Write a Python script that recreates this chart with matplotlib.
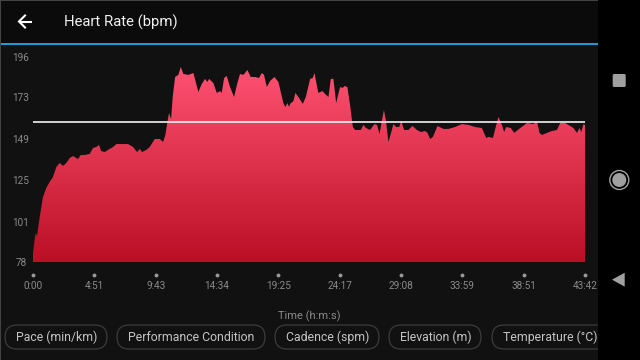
import matplotlib
matplotlib.use('Agg')
import matplotlib.pyplot as plt
from matplotlib.patches import Rectangle, FancyBboxPatch, Circle, Polygon, PathPatch
from matplotlib.path import Path
from matplotlib.colors import LinearSegmentedColormap
from matplotlib.transforms import ScaledTranslation
import numpy as np

plt.rcParams['font.family'] = ['Roboto', 'DejaVu Sans']

# time in minutes, heart rate in bpm
minutes = [0, 0, .13, .21, .32, .53, .79, 1.05, 1.32, 1.58, 1.85, 2.11, 2.38, 2.64, 2.91, 3.17, 3.56, 3.78, 4.09, 4.49,
           4.75, 5.01, 5.23, 5.39, 5.68, 6.07, 6.34, 6.6, 7.52, 7.92, 8.24, 8.45, 8.63, 8.97, 9.24, 9.64, 10.03, 10.3,
           10.48, 10.64, 10.77, 10.93, 11.06, 11.25, 11.51, 11.7, 11.9, 12.3, 12.7, 13.09, 13.36, 13.62, 13.8, 13.94,
           14.28, 14.55, 14.81, 14.94, 15.13, 15.34, 15.6, 15.92, 16.18, 16.39, 16.66, 16.97, 17.24, 17.58, 17.9, 18.11,
           18.29, 18.51, 18.77, 19.11, 19.43, 19.82, 19.98, 20.14, 20.28, 20.35, 20.62, 20.77, 21.01, 21.36, 21.6, 21.94,
           22.15, 22.28, 22.59, 22.91, 23.13, 23.39, 23.58, 23.78, 24.0, 24.31, 24.53, 24.65, 24.89, 25.1, 25.32, 25.5,
           25.95, 26.16, 26.37, 26.69, 27.03, 27.24, 27.43, 27.78, 27.93, 28.14, 28.41, 28.53, 28.75, 28.99, 29.15, 29.38,
           29.72, 30.04, 30.39, 30.71, 31.05, 31.23, 31.44, 31.66, 32.02, 32.5, 32.89, 33.42, 33.95, 34.48, 35.01, 35.54,
           35.88, 36.06, 36.41, 36.61, 36.85, 37.12, 37.3, 37.46, 37.83, 38.1, 38.57, 39.1, 39.62, 39.89, 40.1, 40.29,
           40.68, 41.08, 41.48, 41.74, 42.13, 42.39, 42.79, 43.06, 43.27, 43.4, 43.58, 43.7]
bpm = [78, 83.2, 90.7, 94.7, 93, 103.9, 115.4, 120.6, 124.1, 126.9, 132.7, 135, 133.3, 135, 137.9, 139, 137.3, 139.6, 139.6, 140.2,
       143.6, 144.2, 145.4, 141.9, 141.3, 143.1, 144.2, 145.9, 145.9, 144.2, 141.3, 143.1, 141.3, 142.5, 144.2, 148.8, 148.8, 147.1,
       151.1, 158.6, 163.8, 160.3, 173, 184.5, 185.7, 190.3, 186.2, 185.7, 186.8, 175.9, 180.5, 183.4, 181.6, 183.4,
       181, 175.3, 176.4, 175.3, 183.9, 185.1, 178.7, 173, 181, 186.2, 185.7, 188.5, 184.5, 184.5, 183.9, 186.8,
       185.7, 178.7, 182.2, 184.5, 181.6, 169.5, 167.2, 169.5, 167.2, 169, 170.7, 175.3, 173, 169, 173, 183.4,
       183.9, 186.8, 175.3, 176.4, 174.7, 173, 183.4, 183.4, 169.5, 178.7, 178.2, 179.3, 178.7, 168.4, 155.7, 154,
       154, 156.9, 155.1, 154, 157.4, 156.9, 151.7, 165.5, 159.8, 147.1, 154, 157.4, 155.7, 155.7, 159.2, 154,
       154, 156.3, 154, 152.8, 153.4, 152.3, 148.8, 150, 156.3, 154.6, 154.6, 155.7, 157.4, 156.9, 155.7, 155.1,
       149.4, 150, 149.4, 155.1, 161.5, 156.9, 152.8, 155.7, 155.1, 152.3, 155.1, 158, 157.4, 159.2, 152.3, 151.1,
       152.3, 153.4, 154, 158, 158, 156.9, 155.1, 152.3, 155.1, 152.8, 157.4, 156.9]
avg_bpm = 158.6
y_ticks = [78, 101, 125, 149, 173, 196]
x_tick_pos = [0, 4.85, 9.72, 14.57, 19.42, 24.28, 29.13, 33.98, 38.85, 43.7]
x_tick_labels = ['0:00', '4:51', '9:43', '14:34', '19:25', '24:17', '29:08', '33:59', '38:51', '43:42']
chips = ['Pace (min/km)', 'Performance Condition', 'Cadence (spm)', 'Elevation (m)', 'Temperature (°C)']
chip_left = [5, 117, 275, 389, 492]
chip_right = [107, 265, 379, 481, 610]

W, H = 640, 360
fig = plt.figure(figsize=(6.4, 3.6), dpi=100, facecolor='#111111')

# screen furniture in pixel coordinates
bg = fig.add_axes([0, 0, 1, 1], zorder=0)
bg.set_xlim(0, W)
bg.set_ylim(H, 0)
bg.axis('off')
bg.add_patch(Rectangle((0, 0), 598, 42.5, fc='#0b0b0b', ec='none'))
bg.add_patch(Rectangle((1, 42.5), 597, 2, fc='#1b9ad6', ec='none'))
bg.add_patch(Rectangle((0, 0), 1, H, fc='#444444', ec='none'))
bg.add_patch(Rectangle((0, 0), 598, 1, fc='#444444', ec='none'))
bg.text(64, 22, 'Heart Rate (bpm)', color='#f0f0f0', fontsize=10.7, va='center', ha='left')
bg.plot([19, 32], [21.5, 21.5], color='white', lw=1.5, solid_capstyle='butt')
bg.plot([25, 19, 25], [15.5, 21.5, 27.5], color='white', lw=1.5, solid_joinstyle='miter')
bg.text(309, 316, 'Time (h:m:s)', color='#8a8a8a', fontsize=8, ha='center', va='center')

for name, a, b in zip(chips, chip_left, chip_right):
    bg.add_patch(FancyBboxPatch((a + 12, 337), b - a - 24, 0, boxstyle='round,pad=12,rounding_size=12',
                                fc='none', ec='#3c3c3c', lw=0.9))
    tx = a + 11
    bg.text(tx, 337.5, name, color='#c4c4c4', fontsize=8.85, ha='left', va='center')

bg.add_patch(Rectangle((598, 0), 42, H, fc='black', ec='none', zorder=5))
bg.add_patch(FancyBboxPatch((613.7, 75), 11, 11, boxstyle='round,pad=1,rounding_size=1.5', fc='#a0a0a0', ec='none', zorder=6))
bg.add_patch(Circle((619.3, 180), 9.5, fc='none', ec='#a0a0a0', lw=1, zorder=6))
bg.add_patch(Circle((619.3, 180), 7, fc='#a0a0a0', ec='none', zorder=6))
bg.add_patch(Polygon([(612, 279.7), (624.7, 272.7), (624.7, 286.7)], fc='#a0a0a0', ec='none', zorder=6))

# chart
ax = fig.add_axes([33 / W, 1 - 262 / H, 552 / W, 205 / H], zorder=1)
ax.patch.set_alpha(0)
ax.set_xlim(0, 43.7)
ax.set_ylim(78, 196)
for s in ax.spines.values():
    s.set_visible(False)
ax.set_xticks(x_tick_pos)
ax.set_xticklabels(x_tick_labels, color='#8a8a8a', fontsize=7.2)
ax.set_yticks(y_ticks)
ax.set_yticklabels([str(v) for v in y_ticks], color='#8a8a8a', fontsize=7.2, ha='center')
ax.tick_params(axis='y', length=0, pad=8.6)
ax.tick_params(axis='x', length=0, pad=14)

cmap = LinearSegmentedColormap.from_list('hr', ['#bb0f25', '#ff5273'])
grad = ax.imshow(np.linspace(0, 1, 256)[:, None], extent=[0, 43.7, 78, 190], origin='lower',
                 aspect='auto', cmap=cmap, zorder=2)
verts = list(zip(minutes, bpm)) + [(43.7, 78), (0, 78)]
clip = PathPatch(Path(verts + [verts[0]], closed=True), transform=ax.transData, fc='none', ec='none')
ax.add_patch(clip)
grad.set_clip_path(clip)

ax.axhline(avg_bpm, color='#f2f2f2', lw=1.2, zorder=3)
# tick dots just below the axis
dots = ax.transData + ScaledTranslation(0, -12.5 / 100, fig.dpi_scale_trans)
ax.plot(x_tick_pos, [78] * len(x_tick_pos), 'o', ms=2.8, color='#9a9a9a', mec='none', clip_on=False, transform=dots)

fig.savefig('out.png', dpi=100, facecolor=fig.get_facecolor())
